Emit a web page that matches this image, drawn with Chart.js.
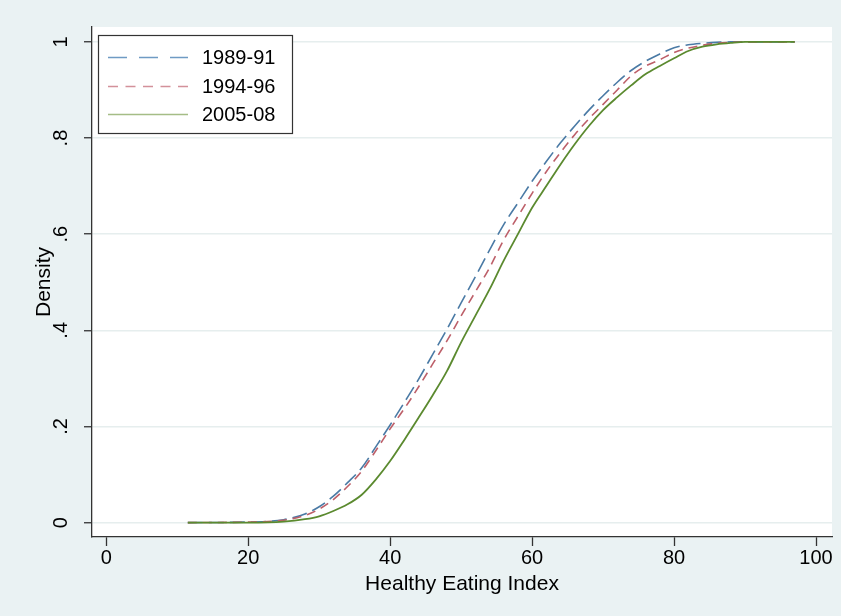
<!DOCTYPE html>
<html>
<head>
<meta charset="utf-8">
<title>Healthy Eating Index</title>
<script src="https://cdn.jsdelivr.net/npm/chart.js@4.4.0/dist/chart.umd.min.js"></script>
<style>
  html, body { margin: 0; padding: 0; background: #eaf2f3; }
  #wrap { width: 841px; height: 616px; }
</style>
</head>
<body>
<div id="wrap"><canvas id="heiChart" width="841" height="616"></canvas></div>
<script>
// Healthy Eating Index score (x) and cumulative share (y) per survey period
const heiScores = [11.5, 20, 25, 28, 30, 32, 34, 36, 38, 40, 42, 44, 46, 48, 50, 52, 54, 56,
  58, 60, 62, 64, 66, 68, 70, 72, 74, 76, 78, 80, 82, 84, 86, 88, 90, 97];
const cdf1989 = [0, 0.001, 0.006, 0.018, 0.033, 0.055, 0.083, 0.114, 0.158, 0.203, 0.25, 0.298,
  0.35, 0.402, 0.457, 0.511, 0.567, 0.62, 0.665, 0.71, 0.751, 0.79, 0.825, 0.858, 0.888, 0.916,
  0.941, 0.96, 0.975, 0.988, 0.994, 0.997, 0.999, 1, 1, 1];
const cdf1994 = [0, 0.001, 0.005, 0.015, 0.028, 0.048, 0.075, 0.107, 0.15, 0.195, 0.237, 0.282,
  0.33, 0.378, 0.43, 0.48, 0.53, 0.588, 0.637, 0.685, 0.73, 0.77, 0.807, 0.84, 0.87, 0.9,
  0.93, 0.95, 0.963, 0.978, 0.987, 0.993, 0.997, 0.999, 1, 1];
const cdf2005 = [0, 0, 0.002, 0.007, 0.013, 0.024, 0.038, 0.058, 0.09, 0.128, 0.172, 0.218,
  0.265, 0.315, 0.375, 0.43, 0.485, 0.545, 0.6, 0.655, 0.7, 0.745, 0.787, 0.825, 0.858, 0.885,
  0.91, 0.933, 0.95, 0.966, 0.981, 0.99, 0.995, 0.998, 1, 1];
const seriesNames = ["1989-91", "1994-96", "2005-08"];

const xTicks = [0, 20, 40, 60, 80, 100];
const yTicks = [0, 0.2, 0.4, 0.6, 0.8, 1];
const yTickLabels = ["0", ".2", ".4", ".6", ".8", "1"];

const FONT = "'Liberation Sans', Arial, Helvetica, sans-serif";

function toPoints(ys) {
  return heiScores.map((x, i) => ({ x: x, y: ys[i] }));
}

//white plot region on the blue-grey graph region
const plotBackground = {
  id: "plotBackground",
  beforeDraw(chart) {
    const { ctx, chartArea: a } = chart;
    ctx.save();
    ctx.fillStyle = "#eaf2f3";
    ctx.fillRect(0, 0, chart.width, chart.height);
    ctx.fillStyle = "#ffffff";
    ctx.fillRect(a.left, a.top, a.right - a.left, a.bottom - a.top);
    ctx.restore();
  },
};

//boxed legend in the upper left corner, Stata style
const boxLegend = {
  id: "boxLegend",
  afterDraw(chart) {
    const ctx = chart.ctx;
    const x0 = 98, y0 = 35, w = 194, h = 98;
    const rows = [57, 86, 114];
    const styles = [
      { color: "#6f9bc4", dash: [19, 12] },
      { color: "#d3919a", dash: [10, 7.5] },
      { color: "#a5bd86", dash: [] },
    ];
    ctx.save();
    ctx.fillStyle = "#ffffff";
    ctx.fillRect(x0, y0, w, h);
    ctx.strokeStyle = "#333333";
    ctx.lineWidth = 1.2;
    ctx.strokeRect(x0 + 0.5, y0 + 0.5, w, h);
    chart.data.datasets.forEach((ds, i) => {
      ctx.beginPath();
      ctx.setLineDash(styles[i].dash);
      ctx.strokeStyle = styles[i].color;
      ctx.lineWidth = 1.3;
      ctx.moveTo(108, rows[i] + 0.5);
      ctx.lineTo(188, rows[i] + 0.5);
      ctx.stroke();
      ctx.setLineDash([]);
      ctx.fillStyle = "#000000";
      ctx.font = "20px " + FONT;
      ctx.textBaseline = "middle";
      ctx.textAlign = "left";
      ctx.fillText(ds.label, 202, rows[i] + 1);
    });
    ctx.restore();
  },
};

const ctx = document.getElementById("heiChart").getContext("2d");
const heiChart = new Chart(ctx, {
  type: "scatter",
  data: {
    datasets: [
      {
        label: seriesNames[0],
        data: toPoints(cdf1989),
        showLine: true,
        borderColor: "#4a7aa5",
        borderWidth: 1.6,
        borderDash: [15, 6],
        pointRadius: 0,
        cubicInterpolationMode: "monotone",
        order: 3,
      },
      {
        label: seriesNames[1],
        data: toPoints(cdf1994),
        showLine: true,
        borderColor: "#bd5f69",
        borderWidth: 1.6,
        borderDash: [9, 6],
        pointRadius: 0,
        cubicInterpolationMode: "monotone",
        order: 2,
      },
      {
        label: seriesNames[2],
        data: toPoints(cdf2005),
        showLine: true,
        borderColor: "#5b8a2f",
        borderWidth: 1.8,
        pointRadius: 0,
        cubicInterpolationMode: "monotone",
        order: 1,
      },
    ],
  },
  options: {
    responsive: false,
    animation: false,
    layout: { padding: { top: 27, right: 9, left: 0, bottom: 0 } },
    plugins: {
      legend: { display: false },
      tooltip: { enabled: false },
    },
    scales: {
      x: {
        type: "linear",
        min: -2,
        max: 102.25,
        afterFit(scale) { scale.height = 79; },
        afterBuildTicks(scale) { scale.ticks = xTicks.map((v) => ({ value: v })); },
        grid: { drawOnChartArea: false, tickLength: 9, tickColor: "#333333", tickWidth: 1.3 },
        border: { display: true, color: "#333333", width: 1.3 },
        ticks: {
          padding: 0,
          color: "#000000",
          font: { family: FONT, size: 20 },
          callback: (v) => String(v),
        },
        title: {
          display: true,
          text: "Healthy Eating Index",
          color: "#000000",
          font: { family: FONT, size: 21 },
          padding: { top: 0, bottom: 19 },
        },
      },
      y: {
        type: "linear",
        min: -0.03,
        max: 1.031,
        afterFit(scale) { scale.width = 92; },
        afterBuildTicks(scale) { scale.ticks = yTicks.map((v) => ({ value: v })); },
        grid: { color: "#e6eeee", lineWidth: 1.5, tickLength: 8, tickColor: "#333333", tickWidth: 1.3 },
        border: { display: true, color: "#333333", width: 1.3 },
        ticks: {
          padding: 14,
          minRotation: 90,
          maxRotation: 90,
          crossAlign: "center",
          color: "#000000",
          font: { family: FONT, size: 20 },
          callback: (v) => yTickLabels[yTicks.indexOf(v)],
        },
        title: {
          display: true,
          text: "Density",
          color: "#000000",
          font: { family: FONT, size: 21 },
          padding: { top: 32, bottom: 0 },
        },
      },
    },
  },
  plugins: [plotBackground, boxLegend],
});
</script>
</body>
</html>
